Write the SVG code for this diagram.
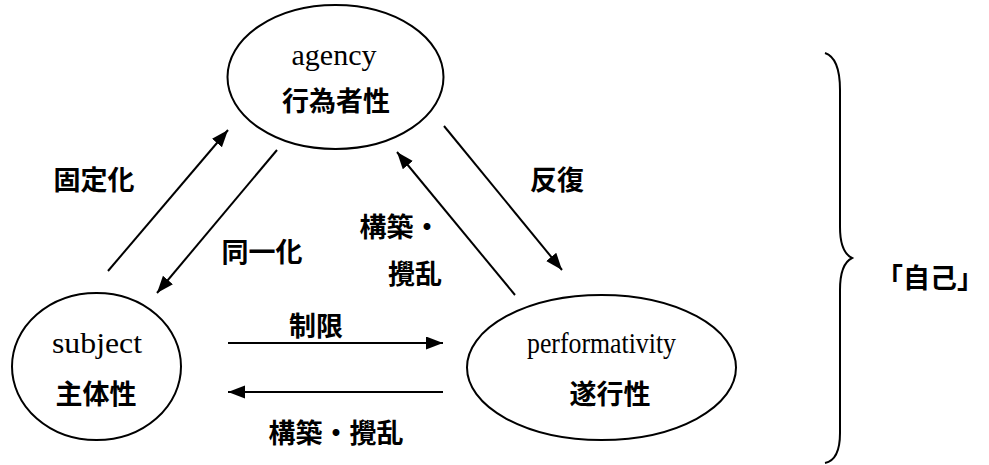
<svg xmlns="http://www.w3.org/2000/svg" width="989" height="465" viewBox="0 0 989 465">
<defs>
<marker id="ah" markerUnits="userSpaceOnUse" markerWidth="18" markerHeight="14" refX="17" refY="6.5" orient="auto">
<path d="M0,0 L17,6.5 L0,13 z" fill="#000"/>
</marker>
<style>
.node{fill:#fff;stroke:#000;stroke-width:2}
.en{font-family:"Liberation Serif",serif;font-size:29px;fill:#000;text-anchor:middle}
.ja{font-family:"Noto Sans CJK JP",sans-serif;font-weight:bold;font-size:27px;fill:#000;text-anchor:middle}
.ln{stroke:#000;stroke-width:2;fill:none;marker-end:url(#ah)}
.brace{stroke:#000;stroke-width:2;fill:none}
</style>
</defs>
<rect width="989" height="465" fill="#fff"/>
<g id="agency">
<ellipse class="node" cx="335.5" cy="77" rx="108" ry="72"/>
<text class="en" x="334" y="65" textLength="85" lengthAdjust="spacingAndGlyphs">agency</text>
<text class="ja" x="336" y="111">行為者性</text>
</g>
<g id="subject">
<ellipse class="node" cx="96.5" cy="366.5" rx="84.5" ry="73.5"/>
<text class="en" x="97" y="353" textLength="90" lengthAdjust="spacingAndGlyphs">subject</text>
<text class="ja" x="96" y="404">主体性</text>
</g>
<g id="performativity">
<ellipse class="node" cx="601.5" cy="367.5" rx="134.5" ry="72.5"/>
<text class="en" x="601.5" y="353" textLength="149" lengthAdjust="spacingAndGlyphs">performativity</text>
<text class="ja" x="610" y="404">遂行性</text>
</g>
<g id="connectors">
<line class="ln" x1="108" y1="271" x2="228" y2="130"/>
<line class="ln" x1="277" y1="150" x2="157" y2="293"/>
<line class="ln" x1="444" y1="126" x2="562" y2="270"/>
<line class="ln" x1="515" y1="295" x2="397" y2="152"/>
<line class="ln" x1="228" y1="343" x2="443" y2="343"/>
<line class="ln" x1="443" y1="392" x2="228" y2="392"/>
</g>
<g id="labels">
<text class="ja" x="94" y="190">固定化</text>
<text class="ja" x="262" y="262">同一化</text>
<text class="ja" x="316" y="336">制限</text>
<text class="ja" x="336" y="443">構築・攪乱</text>
<text class="ja" x="557" y="190">反復</text>
<text class="ja" x="400" y="237">構築・</text>
<text class="ja" x="415" y="284">攪乱</text>
</g>
<g id="self">
<path class="brace" d="M825,53 Q840,58 840,90 L840,227 Q840,252 852,258 Q840,264 840,290 L840,433 Q840,460 825,463"/>
<text class="ja" x="930" y="288" font-size="28">「自己」</text>
</g>
</svg>
